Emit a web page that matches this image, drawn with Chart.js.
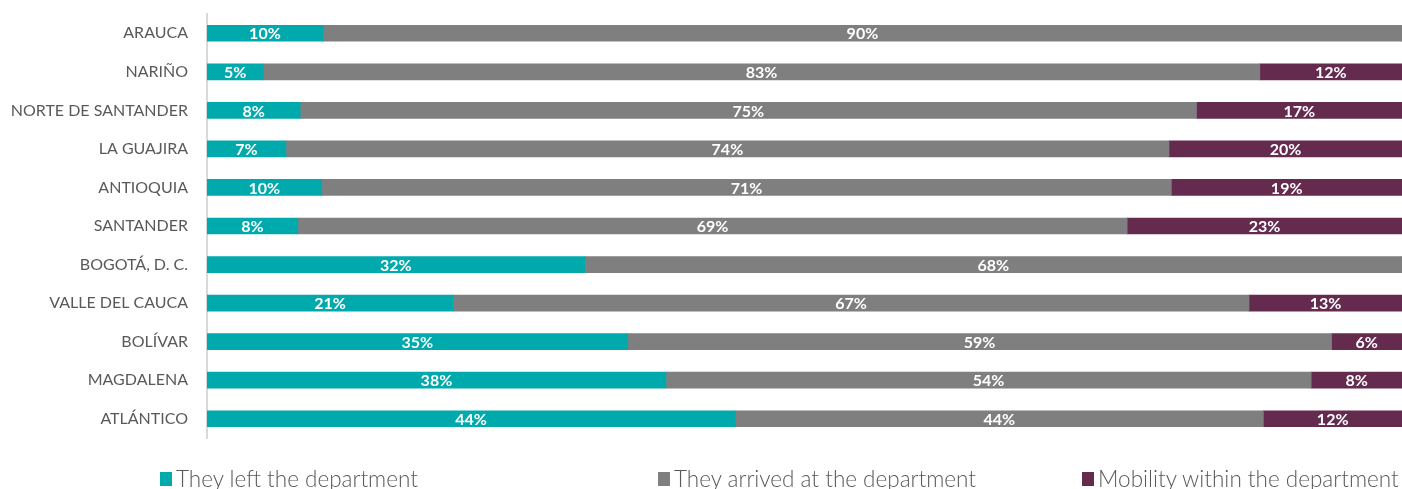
<!DOCTYPE html>
<html>
<head>
<meta charset="utf-8">
<script src="https://cdn.jsdelivr.net/npm/chart.js@4/dist/chart.umd.min.js"></script>
<style>
    body { margin: 0; background: #fff; }
    #wrap { position: relative; width: 1402px; height: 489px; }
    #legend { position: absolute; left: 0; top: 465px; width: 1402px; height: 24px; font-family: Lato, sans-serif; font-weight: 300; font-size: 22.5px; color: #595959; }
    .legend-item { position: absolute; top: 0; white-space: nowrap; display: flex; align-items: center; }
    .legend-box { width: 12px; height: 14px; margin-right: 4px; }
</style>
</head>
<body>
<div id="wrap">
    <canvas id="mobilityChart" width="1402" height="489"></canvas>
    <div id="legend"></div>
</div>
<script>
// Mobility of people by department (share of each row, %)

const departments = ['ARAUCA', 'NARIÑO', 'NORTE DE SANTANDER', 'LA GUAJIRA', 'ANTIOQUIA', 'SANTANDER',
    'BOGOTÁ, D. C.', 'VALLE DEL CAUCA', 'BOLÍVAR', 'MAGDALENA', 'ATLÁNTICO'];

const leftDept = [9.7, 4.7, 7.8, 6.6, 9.6, 7.6, 31.6, 20.6, 35.2, 38.4, 44.2];
const arrivedDept = [90.3, 83.4, 75.0, 73.9, 71.1, 69.4, 68.4, 66.6, 58.9, 54.0, 44.2];
const withinDept = [0, 11.9, 17.2, 19.5, 19.3, 23.0, 0, 12.8, 5.9, 7.6, 11.6];

const seriesNames = ['They left the department', 'They arrived at the department', 'Mobility within the department'];
const seriesColors = ['#00A9AC', '#7F7F7F', '#652B4F'];
const legendLeft = [160, 658, 1082];

// white % labels centred on each segment
const barLabels = {
    id: 'barLabels',
    afterDatasetsDraw(chart) {
        const ctx = chart.ctx;
        ctx.save();
        ctx.font = 'bold 16px Lato, sans-serif';
        ctx.fillStyle = '#ffffff';
        ctx.textAlign = 'center';
        ctx.textBaseline = 'middle';
        chart.data.datasets.forEach((ds, i) => {
            chart.getDatasetMeta(i).data.forEach((bar, j) => {
                const v = ds.data[j];
                if (!v) return;
                const {x, base, y} = bar.getProps(['x', 'base', 'y'], true);
                ctx.fillText(Math.round(v) + '%', (x + base) / 2, y + 1);
            });
        });
        ctx.restore();
    }
};

const seriesData = [leftDept, arrivedDept, withinDept];

new Chart(document.getElementById('mobilityChart'), {
    type: 'bar',
    data: {
        labels: departments,
        datasets: seriesNames.map((name, i) => ({
            label: name,
            data: seriesData[i],
            backgroundColor: seriesColors[i],
            barThickness: 16
        }))
    },
    options: {
        indexAxis: 'y',
        responsive: false,
        animation: false,
        layout: {padding: {top: 14, bottom: 51, left: 0, right: 0}},
        plugins: {
            legend: {display: false},
            tooltip: {enabled: false}
        },
        scales: {
            x: {
                stacked: true,
                min: 0,
                max: 100,
                display: false
            },
            y: {
                stacked: true,
                grid: {display: false, drawTicks: false},
                border: {color: '#D9D9D9', width: 2},
                afterFit: (scale) => {
                    scale.width = 207;
                    scale.paddingTop = 0;
                    scale.paddingBottom = 0;
                },
                ticks: {
                    color: '#595959',
                    padding: 19,
                    font: {family: 'Lato, sans-serif', size: 16}
                }
            }
        }
    },
    plugins: [barLabels]
});

document.getElementById('legend').innerHTML = seriesNames.map((name, i) => `
    <div class="legend-item" style="left: ${legendLeft[i]}px">
        <span class="legend-box" style="background: ${seriesColors[i]}"></span>${name}
    </div>
`).join('');
</script>
</body>
</html>
